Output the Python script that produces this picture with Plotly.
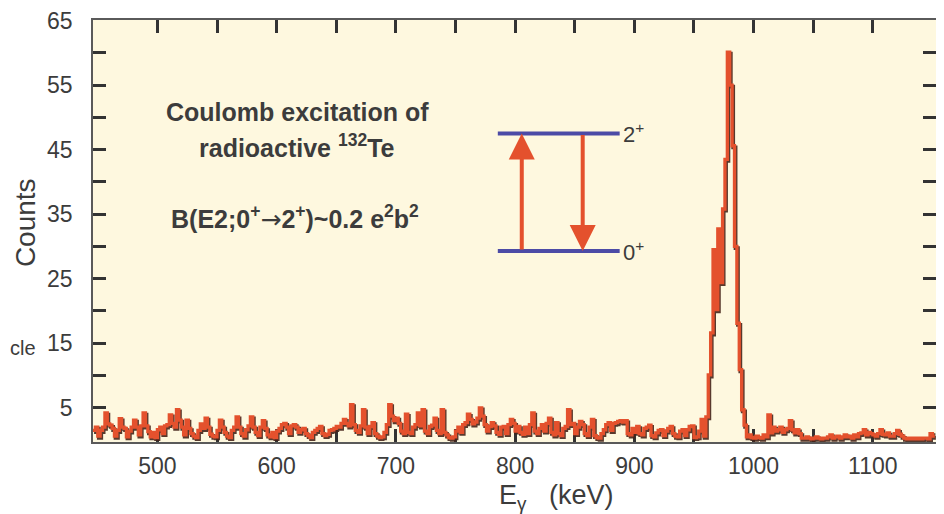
import numpy as np
import plotly.graph_objects as go

# ---------------- data ----------------
BIN_START = 446.0   # keV, left edge of first bin
BIN_WIDTH = 2.0     # keV

bg_low = [  # 446 - 618 keV
    1.5, 2.0, 0.6, 1.5, 2.0, 4.2, 2.5, 2.3, 1.8, 0.6,
    1.5, 3.3, 2.0, 1.8, 0.5, 1.4, 2.0, 3.1, 2.0, 0.8,
    2.2, 4.2, 2.2, 1.3, 0.5, 1.2, 0.4, 1.6, 2.0, 1.0,
    2.2, 2.4, 3.9, 2.6, 2.0, 4.7, 3.1, 2.0, 0.8, 3.1,
    1.8, 1.0, 0.6, 0.4, 1.5, 2.5, 1.8, 3.4, 2.0, 0.9,
    0.6, 0.5, 1.5, 3.1, 2.0, 1.2, 0.6, 0.4, 1.5, 2.0,
    3.6, 2.0, 1.0, 0.6, 1.6, 2.2, 3.6, 2.0, 1.2, 0.7,
    2.0, 3.0, 1.8, 0.8, 0.5, 1.2, 0.4, 1.4, 1.8, 2.4,
    2.6, 2.0, 1.0, 2.2, 2.4, 2.0, 1.2,
]
bg_mid = [  # 620 - 806 keV
    1.6, 1.8, 1.0, 0.7, 0.4, 1.2, 1.5, 1.8, 2.1, 1.0,
    0.7, 0.9, 1.5, 1.6, 1.8, 2.1, 2.0, 2.6, 3.2, 2.6,
    2.2, 5.5, 2.4, 1.5, 1.2, 2.2, 4.7, 2.0, 1.0, 2.1,
    2.7, 1.0, 0.6, 0.4, 0.5, 1.2, 2.4, 5.5, 3.7, 3.0,
    3.4, 2.6, 1.4, 1.0, 4.0, 1.2, 1.0, 2.0, 2.4, 4.2,
    2.2, 4.7, 1.4, 1.0, 2.1, 2.3, 3.4, 1.5, 1.0, 4.7,
    1.2, 0.8, 0.4, 0.3, 0.5, 1.4, 2.0, 1.2, 2.4, 2.7,
    4.0, 3.2, 2.5, 2.8, 3.4, 5.0, 3.7, 2.4, 1.4, 2.1,
    2.7, 2.2, 1.2, 0.9, 2.0, 2.1, 1.0, 2.4, 3.2, 2.6,
    1.4, 2.1, 1.2, 0.9,
]
bg_high = [  # 808 - 958 keV
    2.0, 1.0, 2.4, 4.2, 1.4, 1.0, 1.8, 2.4, 1.4, 2.6,
    3.4, 1.2, 0.8, 2.7, 1.0, 0.7, 1.8, 2.1, 4.7, 2.4,
    2.6, 1.0, 2.0, 2.9, 2.4, 1.0, 0.7, 2.0, 3.2, 0.7,
    0.4, 0.3, 1.0, 1.6, 2.4, 2.7, 1.5, 2.6, 2.7, 2.9,
    3.0, 2.8, 3.0, 1.0, 0.8, 1.8, 1.2, 2.1, 1.0, 0.8,
    1.8, 2.0, 2.3, 0.7, 0.5, 1.1, 1.5, 1.6, 0.7, 1.4,
    1.8, 2.1, 1.0, 0.6, 0.5, 1.4, 1.6, 0.7, 1.6, 2.1,
    2.2, 0.4, 0.5, 1.4, 3.2, 0.6,
]
peak = [  # 960 - 992 keV
    3.6, 10.1, 16.6, 29.5, 20.2, 32.7, 24.4, 35.8, 43.5, 60.1,
    55.0, 45.6, 30.0, 18.1, 10.9, 4.7, 2.3,
]
tail = [  # 994 - 1150 keV
    0.5, 0.8, 0.4, 0.3, 0.6, 0.4, 0.3, 0.8, 0.5, 3.9,
    1.1, 2.0, 1.4, 1.6, 2.0, 1.2, 1.6, 1.8, 3.0, 1.6,
    1.1, 1.6, 1.0, 0.3, 0.3, 0.5, 0.3, 0.2, 0.3, 0.5,
    0.3, 0.2, 0.3, 0.3, 0.5, 0.8, 0.3, 0.5, 0.6, 0.3,
    0.5, 0.8, 0.5, 0.6, 0.3, 0.8, 0.5, 1.0, 1.1, 1.6,
    0.8, 1.2, 1.0, 0.8, 0.6, 1.0, 1.6, 0.9, 0.8, 1.1,
    0.6, 0.6, 1.0, 1.5, 0.9, 0.6, 0.3, 0.2, 0.3, 0.2,
    0.3, 0.2, 0.3, 0.2, 0.3, 0.3, 0.2, 1.0, 0.6,
]

x_tick_vals = [500, 550, 600, 650, 700, 750, 800, 850, 900, 950, 1000, 1050, 1100]
x_tick_text = ["500", "", "600", "", "700", "", "800", "", "900", "", "1000", "", "1100"]
y_tick_vals = [5, 10, 15, 20, 25, 30, 35, 40, 45, 50, 55, 60, 65]
y_tick_text = ["5", "", "15", "", "25", "", "35", "", "45", "", "55", "", "65"]

# level scheme (energy axis / counts axis positions of the inset drawing)
level_x = [785.5, 887.7]
level_2plus = 47.5
level_0plus = 29.3
arrow_up_x = 805.6
arrow_down_x = 856.7

# ---------------- build ----------------
counts = bg_low + bg_mid + bg_high + peak + tail
edges = BIN_START + BIN_WIDTH * np.arange(len(counts) + 1)
ystep = counts + [counts[-1]]

RED = "#E4512D"
BLUE = "#4C4BA6"
TXT = "#3c3c3c"
FONT = "Liberation Sans, Arial, Helvetica, sans-serif"
NB = "\u00a0"

fig = go.Figure()
# dark shadow under the spectrum
fig.add_trace(go.Scatter(
    x=edges + 0.9, y=np.array(ystep) - 0.25, mode="lines", line_shape="hv",
    line=dict(color="rgba(70,35,25,0.9)", width=3.8), hoverinfo="skip", showlegend=False))
fig.add_trace(go.Scatter(
    x=edges, y=ystep, mode="lines", line_shape="hv",
    line=dict(color=RED, width=3.3), showlegend=False))

# level lines
for lv in (level_2plus, level_0plus):
    fig.add_shape(type="line", x0=level_x[0], x1=level_x[1], y0=lv, y1=lv,
                  xref="x", yref="y", line=dict(color=BLUE, width=4))

# arrows
fig.add_annotation(x=arrow_up_x, y=level_2plus, ax=arrow_up_x, ay=level_0plus,
                   xref="x", yref="y", axref="x", ayref="y", text="", showarrow=True,
                   arrowhead=2, arrowsize=1.3, arrowwidth=4, arrowcolor=RED)
fig.add_annotation(x=arrow_down_x, y=level_0plus, ax=arrow_down_x, ay=level_2plus,
                   xref="x", yref="y", axref="x", ayref="y", text="", showarrow=True,
                   arrowhead=2, arrowsize=1.3, arrowwidth=4, arrowcolor=RED)

fig.add_annotation(x=level_x[1] + 1.5, y=level_2plus, xref="x", yref="y", text="2<sup>+</sup>",
                   showarrow=False, xanchor="left", yanchor="middle",
                   font=dict(size=22, color=TXT, family=FONT))
fig.add_annotation(x=level_x[1] + 1.5, y=level_0plus, xref="x", yref="y", text="0<sup>+</sup>",
                   showarrow=False, xanchor="left", yanchor="middle",
                   font=dict(size=22, color=TXT, family=FONT))

# text block
txt_font = dict(size=25, color=TXT, family=FONT)
fig.add_annotation(x=0.242, y=0.782, xref="paper", yref="paper", showarrow=False,
                   xanchor="center", yanchor="middle",
                   text="<b>Coulomb excitation of</b>", font=txt_font)
fig.add_annotation(x=0.242, y=0.701, xref="paper", yref="paper", showarrow=False,
                   xanchor="center", yanchor="middle",
                   text="<b>radioactive <sup>132</sup>Te</b>", font=txt_font)
fig.add_annotation(x=0.240, y=0.531, xref="paper", yref="paper", showarrow=False,
                   xanchor="center", yanchor="middle",
                   text="<b>B(E2;0<sup>+</sup><span style='font-family:DejaVu Sans;font-weight:normal'>→</span>"
                        "2<sup>+</sup>)~0.2 e<sup>2</sup>b<sup>2</sup></b>",
                   font=txt_font)

# axis titles
fig.add_annotation(x=-0.0807, y=0.521, xref="paper", yref="paper", showarrow=False, textangle=-90,
                   xanchor="center", yanchor="middle", text="Counts",
                   font=dict(size=28, color=TXT, family=FONT))
fig.add_annotation(x=0.549, y=-0.130, xref="paper", yref="paper", showarrow=False,
                   xanchor="center", yanchor="middle",
                   text="E<sub>γ</sub>" + NB * 3 + "(keV)", font=dict(size=27, color=TXT, family=FONT))
fig.add_annotation(x=-0.1008, y=0.223, xref="paper", yref="paper", showarrow=False,
                   xanchor="left", yanchor="middle",
                   text="cle", font=dict(size=20, color=TXT, family=FONT))

axis_common = dict(
    showline=True, linecolor="#5a5a5a", linewidth=1.5, mirror="ticks",
    ticks="inside", ticklen=13, tickwidth=2.5, tickcolor="#333333",
    showgrid=False, zeroline=False, ticklabeloverflow="allow", automargin=False,
    tickfont=dict(size=23, color=TXT, family=FONT), layer="below traces",
)
fig.update_xaxes(range=[446, 1153], tickmode="array", tickvals=x_tick_vals,
                 ticktext=x_tick_text, ticklabelstandoff=3, **axis_common)
fig.update_yaxes(range=[-0.3, 65.08], tickmode="array", tickvals=y_tick_vals,
                 ticktext=y_tick_text, ticklabelstandoff=14, **axis_common)

# the page body adds an 8 px offset, so the figure is 8 px smaller on each axis
fig.update_layout(
    width=936, height=506,
    margin=dict(l=85, r=8, t=12, b=72, autoexpand=False),
    paper_bgcolor="white", plot_bgcolor="#FEF8DF",
    showlegend=False, font=dict(family=FONT, color=TXT),
)

fig.write_html("out.html")
